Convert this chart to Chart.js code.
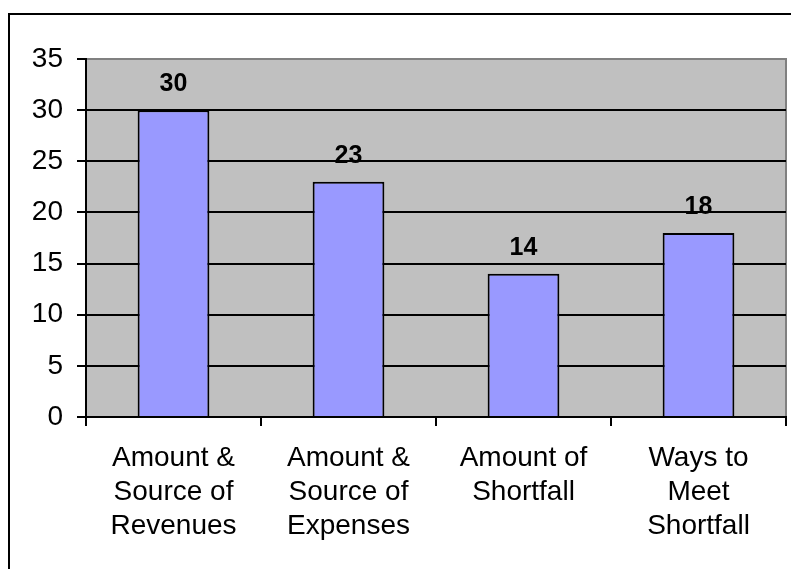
<!DOCTYPE html>
<html>
<head>
<meta charset="utf-8">
<script src="https://cdn.jsdelivr.net/npm/chart.js@4"></script>
<style>
  html, body { margin: 0; padding: 0; background: #fff; }
  #wrap { width: 791px; height: 569px; position: relative; }
</style>
</head>
<body>
<div id="wrap"><canvas id="topics-chart"></canvas></div>
<script>
const CATEGORIES = [
  ["Amount &", "Source of", "Revenues"],
  ["Amount &", "Source of", "Expenses"],
  ["Amount of", "Shortfall"],
  ["Ways to", "Meet", "Shortfall"],
];
const COUNTS = [30, 23, 14, 18];
const Y_MAX = 35;
const Y_STEP = 5;

const $ctx = document.getElementById("topics-chart");

// white page, frame and grey plot background
const backdrop = {
  id: "backdrop",
  beforeDraw(chart) {
    const { ctx, chartArea: a, width, height } = chart;
    ctx.save();
    ctx.fillStyle = "#fff";
    ctx.fillRect(0, 0, width, height);
    ctx.strokeStyle = "#000";
    ctx.lineWidth = 2;
    ctx.beginPath();
    ctx.moveTo(9, height + 2);
    ctx.lineTo(9, 14);
    ctx.lineTo(width + 2, 14);
    ctx.stroke();
    ctx.fillStyle = "#C0C0C0";
    ctx.fillRect(a.left, a.top, a.right - a.left, a.bottom - a.top);
    ctx.strokeStyle = "#808080";
    ctx.lineWidth = 2;
    ctx.beginPath();
    ctx.moveTo(a.left, a.top);
    ctx.lineTo(a.right, a.top);
    ctx.lineTo(a.right, a.bottom);
    ctx.stroke();
    ctx.restore();
  },
};

// value printed above each bar
const valueLabels = {
  id: "valueLabels",
  afterDatasetsDraw(chart) {
    const { ctx } = chart;
    const meta = chart.getDatasetMeta(0);
    ctx.save();
    ctx.font = "bold 25px 'Liberation Sans', Arial, sans-serif";
    ctx.fillStyle = "#000";
    ctx.textAlign = "center";
    ctx.textBaseline = "alphabetic";
    meta.data.forEach((bar, i) => {
      ctx.fillText(String(COUNTS[i]), bar.x, bar.y - 19);
    });
    ctx.restore();
  },
};

new Chart($ctx, {
  type: "bar",
  data: {
    labels: CATEGORIES,
    datasets: [
      {
        data: COUNTS,
        backgroundColor: "#9999FF",
        borderColor: "#000",
        borderWidth: 2,
        categoryPercentage: 1,
        barPercentage: 0.41,
      },
    ],
  },
  options: {
    responsive: true,
    maintainAspectRatio: false,
    animation: false,
    layout: { padding: { top: 59, right: 5, left: 0, bottom: 0 } },
    plugins: {
      legend: { display: false },
      tooltip: { enabled: false },
    },
    scales: {
      x: {
        afterFit(scale) {
          scale.height = 152;
        },
        grid: {
          drawOnChartArea: false,
          offset: true,
          tickLength: 9,
          tickColor: "#000",
          lineWidth: 2,
        },
        border: { color: "#000", width: 2 },
        ticks: {
          color: "#000",
          padding: 15,
          maxRotation: 0,
          autoSkip: false,
          font: { family: "'Liberation Sans', Arial, sans-serif", size: 28, lineHeight: 1.22 },
        },
      },
      y: {
        min: 0,
        max: Y_MAX,
        afterFit(scale) {
          scale.width = 86;
        },
        grid: {
          color: (c) => (c.tick && c.tick.value === Y_MAX ? "#808080" : "#000"),
          tickColor: "#000",
          tickLength: 9,
          lineWidth: 2,
        },
        border: { color: "#000", width: 2 },
        ticks: {
          stepSize: Y_STEP,
          color: "#000",
          padding: 14,
          font: { family: "'Liberation Sans', Arial, sans-serif", size: 28 },
        },
      },
    },
  },
  plugins: [backdrop, valueLabels],
});
</script>
</body>
</html>
